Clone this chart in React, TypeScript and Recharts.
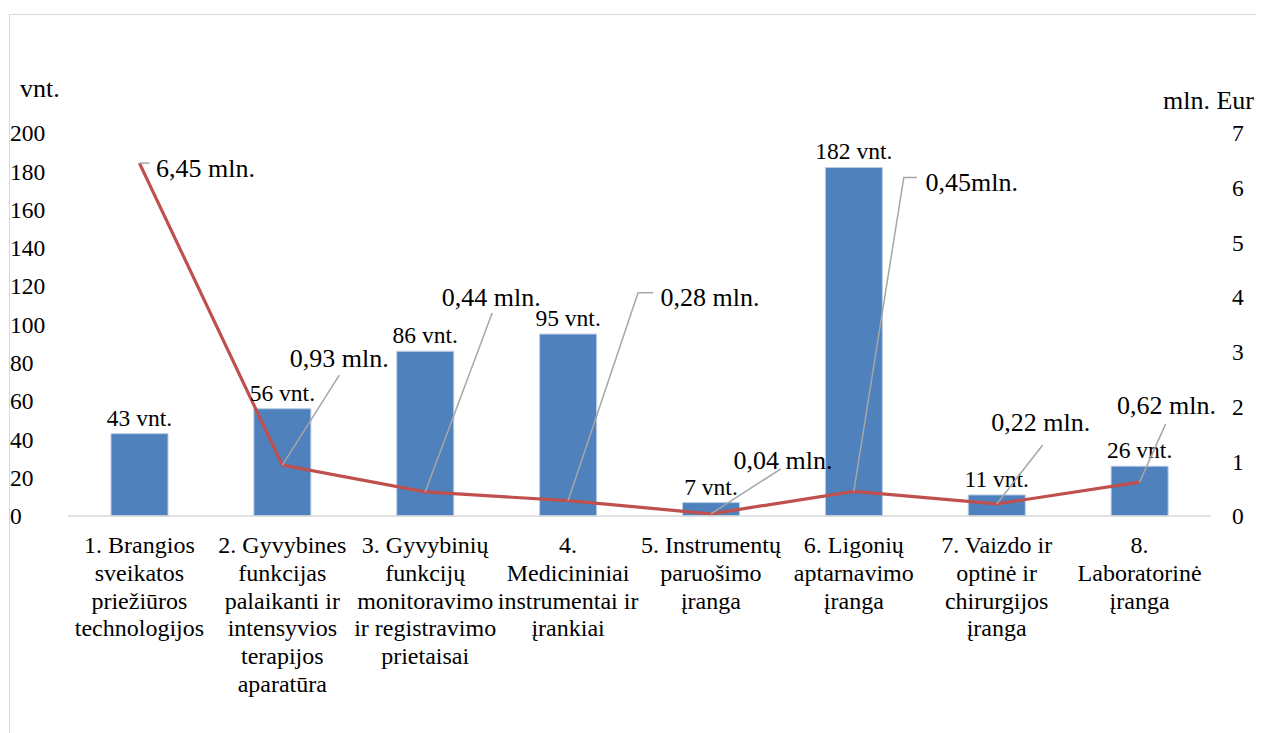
import React from 'react';
import {
  ComposedChart,
  Bar,
  Line,
  XAxis,
  YAxis,
  LabelList,
} from 'recharts';

const categories = [
  '1. Brangios\nsveikatos\npriežiūros\ntechnologijos',
  '2. Gyvybines\nfunkcijas\npalaikanti ir\nintensyvios\nterapijos\naparatūra',
  '3. Gyvybinių\nfunkcijų\nmonitoravimo\nir registravimo\nprietaisai',
  '4.\nMedicininiai\ninstrumentai ir\nįrankiai',
  '5. Instrumentų\nparuošimo\nįranga',
  '6. Ligonių\naptarnavimo\nįranga',
  '7. Vaizdo ir\noptinė ir\nchirurgijos\nįranga',
  '8.\nLaboratorinė\nįranga',
];

const units = [43, 56, 86, 95, 7, 182, 11, 26];
const millions = [6.45, 0.93, 0.44, 0.28, 0.04, 0.45, 0.22, 0.62];
const millionLabels = [
  '6,45 mln.',
  '0,93 mln.',
  '0,44 mln.',
  '0,28 mln.',
  '0,04 mln.',
  '0,45mln.',
  '0,22 mln.',
  '0,62 mln.',
];

const leftTicks = [0, 20, 40, 60, 80, 100, 120, 140, 160, 180, 200];
const rightTicks = [0, 1, 2, 3, 4, 5, 6, 7];

// where each line label sits relative to its point: text centre, leader end, optional elbow
const labelPlacement = [
  { tx: 66, ty: 5, lx: 10, ly: 0 },
  { tx: 57, ty: -107, lx: 57, ly: -90 },
  { tx: 66, ty: -195, lx: 67, ly: -179 },
  { tx: 142, ty: -204, lx: 70, ly: -208, ex: 85 },
  { tx: 72, ty: -54, lx: 70, ly: -45 },
  { tx: 118, ty: -309, lx: 50, ly: -314, ex: 63 },
  { tx: 44, ty: -82, lx: 46, ly: -59 },
  { tx: 27, ty: -77, lx: 26, ly: -58 },
];

const data = categories.map((name, i) => ({
  name,
  units: units[i],
  mln: millions[i],
  mlnLabel: millionLabels[i],
}));

const FONT = 'Liberation Serif';

const LeftTick = ({ y, payload }: any) => (
  <text x={2} y={y} dy="0.35em" fontSize={23.5} fill="#000" textAnchor="start" fontFamily={FONT}>
    {payload.value}
  </text>
);

const RightTick = ({ y, payload }: any) => (
  <text x={1224} y={y} dy="0.35em" fontSize={23.5} fill="#000" textAnchor="start" fontFamily={FONT}>
    {payload.value}
  </text>
);

const CategoryTick = ({ x, y, payload }: any) => {
  const lines = String(payload.value).split('\n');
  return (
    <text x={x} y={y} fontSize={24} fill="#000" textAnchor="middle" fontFamily={FONT}>
      {lines.map((l, i) => (
        <tspan key={i} x={x} dy={i === 0 ? 35 : 27.8}>
          {l}
        </tspan>
      ))}
    </text>
  );
};

const MlnLabel = (props: any) => {
  const { x, y, index, value } = props;
  const p = labelPlacement[index];
  const pts =
    p.ex !== undefined
      ? `${x},${y} ${x + p.lx},${y + p.ly} ${x + p.ex},${y + p.ly}`
      : `${x},${y} ${x + p.lx},${y + p.ly}`;
  return (
    <g>
      <polyline points={pts} fill="none" stroke="#A6A6A6" strokeWidth={1.5} />
      <text
        x={x + p.tx}
        y={y + p.ty}
        dy="0.35em"
        fontSize={26}
        fill="#000"
        textAnchor="middle"
        fontFamily={FONT}
      >
        {value}
      </text>
    </g>
  );
};

export default function App() {
  return (
    <div style={{ position: 'relative', width: 1256, height: 725, fontFamily: FONT }}>
      <div
        style={{
          position: 'absolute',
          left: 1,
          top: 6,
          width: 1270,
          height: 740,
          borderLeft: '1px solid #D9D9D9',
          borderTop: '1px solid #D9D9D9',
        }}
      />
      <div style={{ position: 'absolute', left: 12, top: 66, fontSize: 26, fontFamily: FONT }}>vnt.</div>
      <div style={{ position: 'absolute', left: 1155, top: 78, fontSize: 26, fontFamily: FONT }}>mln. Eur</div>
      <ComposedChart
        width={1256}
        height={725}
        data={data}
        margin={{ top: 125, right: 3, bottom: 17, left: 0 }}
        barCategoryGap={0}
      >
        <XAxis
          dataKey="name"
          axisLine={{ stroke: '#D9D9D9', strokeWidth: 1.5 }}
          tickLine={false}
          tickSize={0}
          height={200}
          interval={0}
          tick={<CategoryTick />}
        />
        <YAxis
          yAxisId="left"
          orientation="left"
          width={60}
          domain={[0, 200]}
          ticks={leftTicks}
          axisLine={false}
          tickLine={false}
          tick={<LeftTick />}
        />
        <YAxis
          yAxisId="right"
          orientation="right"
          width={50}
          domain={[0, 7]}
          ticks={rightTicks}
          axisLine={false}
          tickLine={false}
          tick={<RightTick />}
        />
        <Bar
          yAxisId="left"
          dataKey="units"
          barSize={57}
          fill="#4F81BD"
          stroke="#B9CDE8"
          strokeWidth={1}
          isAnimationActive={false}
        >
          <LabelList
            dataKey="units"
            position="top"
            offset={8}
            formatter={(v: any) => `${v} vnt.`}
            fontSize={23.5}
            fontFamily={FONT}
            fill="#000"
          />
        </Bar>
        <Line
          yAxisId="right"
          dataKey="mln"
          stroke="#C0504D"
          strokeWidth={3.2}
          dot={false}
          type="linear"
          isAnimationActive={false}
        >
          <LabelList dataKey="mlnLabel" content={<MlnLabel />} />
        </Line>
      </ComposedChart>
    </div>
  );
}
